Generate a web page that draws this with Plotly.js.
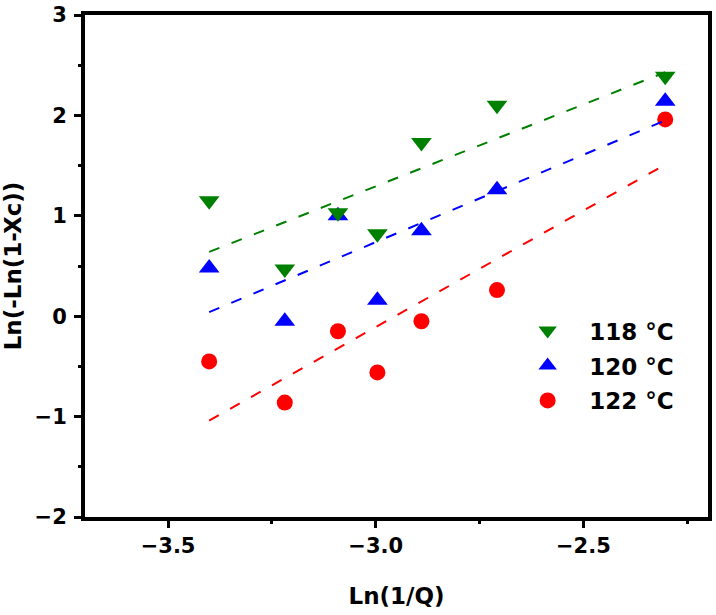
<!DOCTYPE html>
<html>
<head>
<meta charset="utf-8">
<script src="https://cdn.plot.ly/plotly-3.0.1.min.js"></script>
<style>html,body{margin:0;padding:0;background:#fff;}#chart{width:716px;height:615px;}</style>
</head>
<body>
<div id="chart"></div>
<script>
// Ln(1/Q) values
var lnInvQ = [-3.401, -3.219, -3.091, -2.996, -2.890, -2.708, -2.303];
// Ln(-Ln(1-Xc)) values per temperature
var y118 = [1.15, 0.47, 1.03, 0.82, 1.73, 2.10, 2.39];
var y120 = [0.48, -0.05, 1.00, 0.16, 0.85, 1.26, 2.14];
var y122 = [-0.45, -0.86, -0.15, -0.56, -0.05, 0.26, 1.96];
// linear fit endpoints
var fitX = [-3.401, -2.303];
var fit118 = [0.64, 2.43];
var fit120 = [0.04, 1.95];
var fit122 = [-1.04, 1.51];
var seriesNames = ['118 °C', '120 °C', '122 °C'];

var green = '#008000', blue = '#0000ff', red = '#ff0000';
var dashStyle = '11px,13px';

var traces = [
  {x: lnInvQ, y: y122, mode: 'markers', name: seriesNames[2], legendgroup: 'g3', legendrank: 3,
   marker: {symbol: 'circle', size: 16, color: red}},
  {x: lnInvQ, y: y120, mode: 'markers', name: seriesNames[1], legendgroup: 'g2', legendrank: 2,
   marker: {symbol: 'triangle-up', size: 18, color: blue}},
  {x: lnInvQ, y: y118, mode: 'markers', name: seriesNames[0], legendgroup: 'g1', legendrank: 1,
   marker: {symbol: 'triangle-down', size: 18, color: green}},
  {x: fitX, y: fit122, mode: 'lines', showlegend: false, hoverinfo: 'skip',
   line: {color: red, width: 2, dash: dashStyle}},
  {x: fitX, y: fit120, mode: 'lines', showlegend: false, hoverinfo: 'skip',
   line: {color: blue, width: 2, dash: dashStyle}},
  {x: fitX, y: fit118, mode: 'lines', showlegend: false, hoverinfo: 'skip',
   line: {color: green, width: 2, dash: dashStyle}}
];

var tickFont = {family: 'DejaVu Sans', size: 21, color: '#000', weight: 'bold'};
var titleFont = {family: 'DejaVu Sans', size: 23, color: '#000', weight: 'bold'};

var layout = {
  width: 716, height: 615,
  margin: {l: 85, r: 8, t: 15, b: 98},
  paper_bgcolor: '#fff', plot_bgcolor: '#fff',
  showlegend: true,
  legend: {
    x: 0.676, xanchor: 'left', y: 0.414, yanchor: 'top',
    traceorder: 'grouped', tracegroupgap: 2,
    itemwidth: 73,
    font: {family: 'DejaVu Sans', size: 23, color: '#000', weight: 'bold'},
    bgcolor: 'rgba(0,0,0,0)', borderwidth: 0
  },
  xaxis: {
    range: [-3.7, -2.2], tick0: -3.5, dtick: 0.5, tickformat: '.1f',
    showgrid: false, zeroline: false,
    showline: true, linewidth: 4, linecolor: '#000', mirror: true,
    ticks: 'outside', ticklen: 7, tickwidth: 3, tickcolor: '#000',
    minor: {dtick: 0.25, ticks: 'outside', ticklen: 3, tickwidth: 3, tickcolor: '#000', showgrid: false},
    tickfont: tickFont,
    title: {text: 'Ln(1/Q)', font: titleFont, standoff: 32}
  },
  yaxis: {
    range: [-2, 3], tick0: 0, dtick: 1,
    showgrid: false, zeroline: false,
    showline: true, linewidth: 4, linecolor: '#000', mirror: true,
    ticks: 'outside', ticklen: 7, tickwidth: 3, tickcolor: '#000',
    ticklabelstandoff: 3,
    minor: {dtick: 0.5, ticks: 'outside', ticklen: 3, tickwidth: 3, tickcolor: '#000', showgrid: false},
    tickfont: tickFont,
    title: {text: 'Ln(-Ln(1-Xc))', font: titleFont, standoff: 12}
  }
};

Plotly.newPlot('chart', traces, layout, {displayModeBar: false, staticPlot: true});
</script>
</body>
</html>
